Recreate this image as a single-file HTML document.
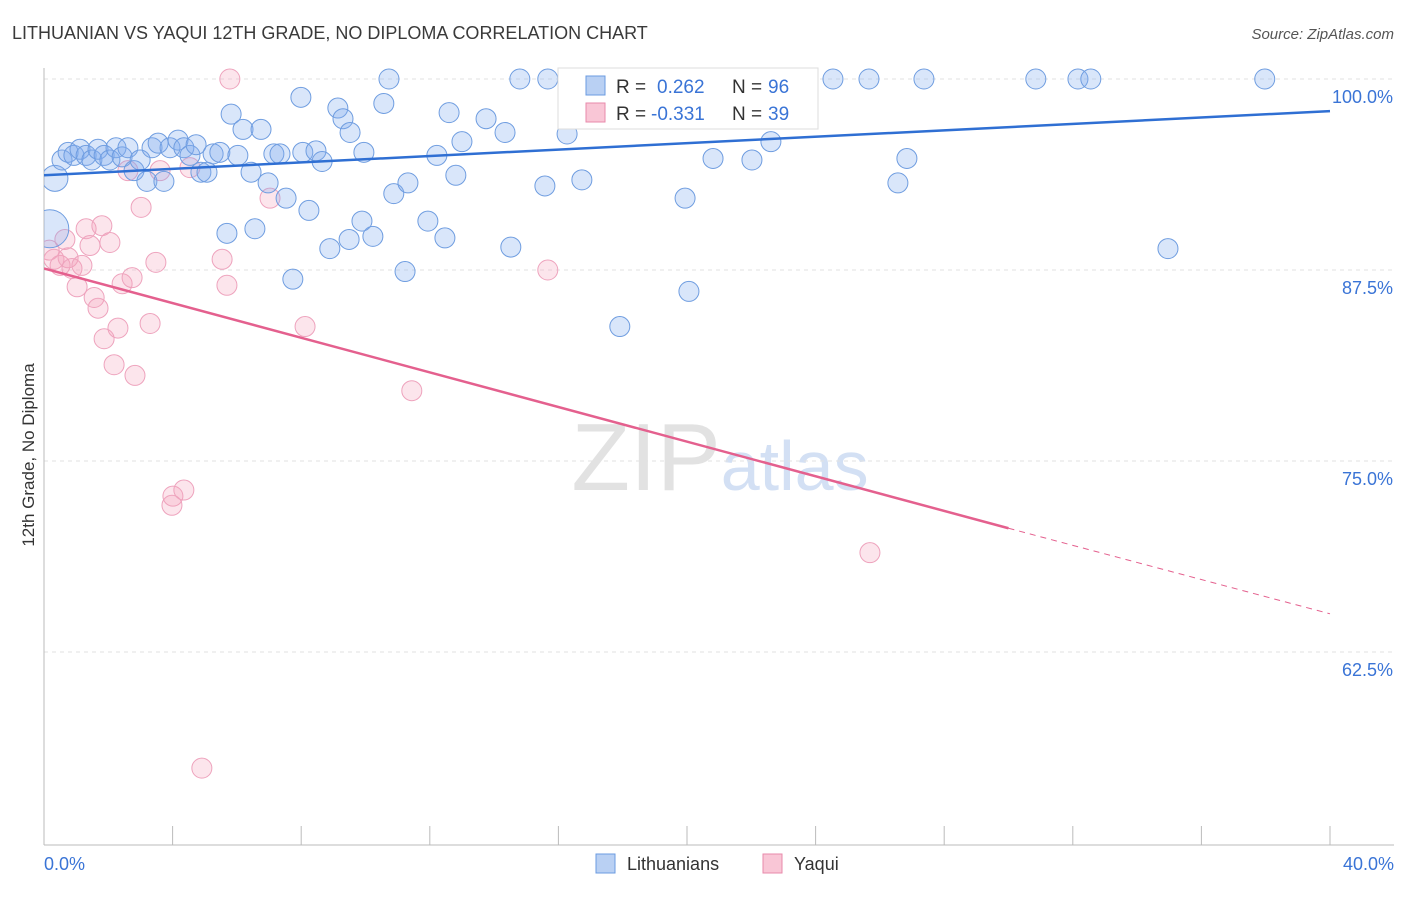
<!DOCTYPE html>
<html><head><meta charset="utf-8"><style>
body{margin:0;background:#fff;font-family:"Liberation Sans",sans-serif;}
svg text{font-family:"Liberation Sans",sans-serif;}
</style></head><body>
<svg id="chart" width="1406" height="892">
<defs><clipPath id="plotclip"><rect x="44" y="60" width="1360" height="786"/></clipPath></defs>
<text x="12" y="39" font-size="18" fill="#3a3a3a">LITHUANIAN VS YAQUI 12TH GRADE, NO DIPLOMA CORRELATION CHART</text>
<text x="1394" y="39" font-size="15" fill="#555" text-anchor="end" font-style="italic">Source: ZipAtlas.com</text>
<text x="34" y="455" font-size="17" fill="#333" transform="rotate(-90 34 455)" text-anchor="middle">12th Grade, No Diploma</text>
<text x="720" y="490" font-size="96" fill="#e2e2e2" text-anchor="middle" font-family="Liberation Serif">ZIP<tspan fill="#d3e0f4" font-family="Liberation Sans" font-size="70">atlas</tspan></text>
<g id="grid"></g><g id="axes"></g><g id="marks" clip-path="url(#plotclip)"></g>
<g>
<rect x="558" y="68" width="260" height="61" fill="#fff" stroke="#ddd"/>
<rect x="586" y="76" width="19" height="19" fill="#b9d0f3" stroke="#6b9be0"/>
<text x="616" y="93" font-size="19" fill="#333">R =</text>
<text x="657" y="93" font-size="19" fill="#3a74d6">0.262</text>
<text x="732" y="93" font-size="19" fill="#333">N =</text>
<text x="768" y="93" font-size="19" fill="#3a74d6">96</text>
<rect x="586" y="103" width="19" height="19" fill="#f9c6d6" stroke="#e88aab"/>
<text x="616" y="120" font-size="19" fill="#333">R =</text>
<text x="651" y="120" font-size="19" fill="#3a74d6">-0.331</text>
<text x="732" y="120" font-size="19" fill="#333">N =</text>
<text x="768" y="120" font-size="19" fill="#3a74d6">39</text>
</g>
<g>
<rect x="596" y="854" width="19" height="19" fill="#b9d0f3" stroke="#6b9be0"/>
<text x="627" y="870" font-size="18" fill="#333">Lithuanians</text>
<rect x="763" y="854" width="19" height="19" fill="#f9c6d6" stroke="#e88aab"/>
<text x="794" y="870" font-size="18" fill="#333">Yaqui</text>
</g>
</svg>
<script>
const yTicks=[100,87.5,75,62.5];
const yTickLabels=["100.0%","87.5%","75.0%","62.5%"];
const xTickLabels=["0.0%","40.0%"];
const blueX=[0.34,0.56,0.75,0.93,1.12,1.31,1.49,1.68,1.87,2.05,2.24,2.43,2.61,2.80,2.99,3.20,3.36,3.55,3.73,3.92,4.17,4.35,4.54,4.73,4.88,5.07,5.26,5.47,5.69,5.82,6.03,6.19,6.44,6.56,6.75,6.97,7.15,7.34,7.53,7.74,7.99,8.05,8.24,8.46,8.65,8.89,9.14,9.30,9.49,9.52,9.89,9.95,10.23,10.57,10.73,10.88,11.23,11.32,11.94,12.22,12.47,12.60,12.81,13.00,13.75,14.34,14.52,14.80,15.58,15.67,16.27,16.73,17.91,18.35,19.00,19.94,20.06,20.81,22.02,22.39,22.61,23.67,24.54,25.66,26.56,26.84,27.37,30.85,32.16,32.56,34.96,37.97,0.18];
const blueY=[93.5,94.7,95.2,95.0,95.4,95.0,94.7,95.4,95.0,94.7,95.5,94.9,95.5,94.0,94.7,93.3,95.5,95.8,93.3,95.5,96.0,95.5,95.0,95.7,93.9,93.9,95.1,95.2,89.9,97.7,95.0,96.7,93.9,90.2,96.7,93.2,95.1,95.1,92.2,86.9,98.8,95.2,91.4,95.3,94.6,88.9,98.1,97.4,89.5,96.5,90.7,95.2,89.7,98.4,100,92.5,87.4,93.2,90.7,95.0,89.6,97.8,93.7,95.9,97.4,96.5,89.0,100,93.0,100,96.4,93.4,83.8,100,100,92.2,86.1,94.8,94.7,99.9,95.9,100,100,100,93.2,94.8,100,100,100,100,88.9,100,90.2];
const blueR=[13,10,10,10,10,10,10,10,10,10,10,10,10,10,10,10,10,10,10,10,10,10,10,10,10,10,10,10,10,10,10,10,10,10,10,10,10,10,10,10,10,10,10,10,10,10,10,10,10,10,10,10,10,10,10,10,10,10,10,10,10,10,10,10,10,10,10,10,10,10,10,10,10,10,10,10,10,10,10,10,10,10,10,10,10,10,10,10,10,10,10,10,19];
const pinkX=[5.78,0.16,0.31,0.50,0.65,0.75,0.87,1.03,1.18,1.31,1.43,1.56,1.68,1.80,1.87,2.05,2.18,2.30,2.43,2.61,2.74,2.83,3.02,3.30,3.48,3.61,4.01,3.98,4.35,4.54,4.91,5.54,5.69,7.03,8.12,11.44,15.67,25.69];
const pinkY=[100,88.8,88.2,87.8,89.5,88.3,87.6,86.4,87.8,90.2,89.1,85.7,85.0,90.4,83.0,89.3,81.3,83.7,86.6,94.0,87.0,80.6,91.6,84.0,88.0,94.0,72.7,72.1,73.1,94.2,54.9,88.2,86.5,92.2,83.8,79.6,87.5,69.0];
const blueTrend=[93.7,97.9];
const pinkTrend=[87.6,70.6,65.0];
const pinkTrendX=[0,30,40];
const NS="http://www.w3.org/2000/svg";
const X=v=>44+v/40*1286;
const Y=v=>79+(100-v)*15.28;
function mk(tag,attrs,parent){const e=document.createElementNS(NS,tag);for(const k in attrs)e.setAttribute(k,attrs[k]);document.getElementById(parent).appendChild(e);return e;}
yTicks.forEach((t,i)=>{
  const g=mk('line',{x1:44,x2:1394,y1:Y(t),y2:Y(t),stroke:'#e2e2e2','stroke-dasharray':'4,4'},'grid');
  
  
  const l=mk('text',{x:1393,y:Y(t)+24,'font-size':18,fill:'#3a74d6','text-anchor':'end'},'axes');
  l.textContent=yTickLabels[i];
  
  
});
mk('line',{x1:44,x2:44,y1:68,y2:845,stroke:'#bbb'},'axes');
mk('line',{x1:44,x2:1394,y1:845,y2:845,stroke:'#bbb'},'axes');
for(let i=0;i<=10;i++){mk('line',{x1:X(i*4),x2:X(i*4),y1:826,y2:845,stroke:'#bbb'},'axes');}
[0,40].forEach((v,i)=>{
  const t=mk('text',{x:i?1394:44,y:870,'font-size':18,fill:'#3a74d6','text-anchor':i?'end':'start'},'axes');
  t.textContent=xTickLabels[i];
  
  
});
pinkX.forEach((x,i)=>{
  const c=mk('circle',{cx:X(x),cy:Y(pinkY[i]),r:10,fill:'rgba(244,160,188,0.28)',stroke:'#eea3bd','stroke-width':1},'marks');
  
  
});
blueX.forEach((x,i)=>{
  const c=mk('circle',{cx:X(x),cy:Y(blueY[i]),r:blueR[i],fill:'rgba(130,172,238,0.3)',stroke:'#6f9de0','stroke-width':1},'marks');
  
  
});
const bl=mk('line',{x1:X(0),y1:Y(blueTrend[0]),x2:X(40),y2:Y(blueTrend[1]),stroke:'#2f6fd3','stroke-width':2.5},'marks');


const pl=mk('line',{x1:X(pinkTrendX[0]),y1:Y(pinkTrend[0]),x2:X(pinkTrendX[1]),y2:Y(pinkTrend[1]),stroke:'#e4608e','stroke-width':2.5},'marks');


const pd=mk('line',{x1:X(pinkTrendX[1]),y1:Y(pinkTrend[1]),x2:X(pinkTrendX[2]),y2:Y(pinkTrend[2]),stroke:'#e4608e','stroke-width':1,'stroke-dasharray':'6,5'},'marks');


</script>
</body></html>
